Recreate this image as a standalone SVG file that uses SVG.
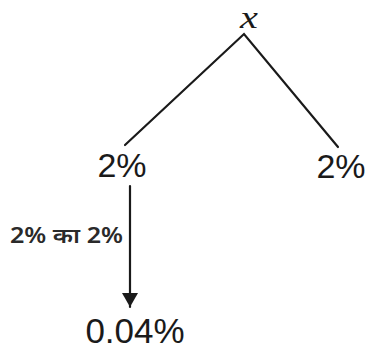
<svg xmlns="http://www.w3.org/2000/svg" width="369" height="351" viewBox="0 0 369 351">
<defs>
<style>
.t{font-family:"Liberation Sans",Arial,sans-serif;fill:#1a1a1a}
.ln{stroke:#1a1a1a;stroke-width:2.2;fill:none;stroke-linecap:round}
</style>
<marker id="ah" markerWidth="14" markerHeight="16" refX="14" refY="8" orient="auto" markerUnits="userSpaceOnUse">
<path d="M0,0 L14,8 L0,16 Z" fill="#1a1a1a"/>
</marker>
</defs>
<rect width="369" height="351" fill="#fff"/>
<g id="connectors">
<polyline class="ln" points="125,145 244,34 338,147"/>
<line class="ln" x1="130" y1="186" x2="130" y2="307" marker-end="url(#ah)"/>
<text x="10" y="243" font-size="21" font-weight="600" textLength="113" lengthAdjust="spacingAndGlyphs" style="font-family:'Noto Sans','Liberation Sans',sans-serif;fill:#2a2a2a">2% का 2%</text>
</g>
<g id="node-x"><text transform="translate(249,28) scale(1.3,1)" font-size="31" font-style="italic" text-anchor="middle" style="font-family:'Liberation Serif',serif;fill:#1a1a1a">x</text></g>
<g id="node-left"><text class="t" x="122" y="177" font-size="34" text-anchor="middle">2%</text></g>
<g id="node-right"><text class="t" x="341" y="178" font-size="34" text-anchor="middle">2%</text></g>
<g id="node-result"><text class="t" x="135" y="343" font-size="35" text-anchor="middle">0.04%</text></g>
</svg>
